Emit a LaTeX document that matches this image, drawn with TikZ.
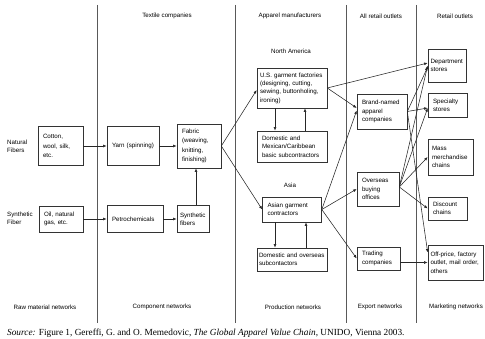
\documentclass[tikz,border=0pt]{standalone}
\usepackage{fontspec}
\setmainfont{Liberation Sans}
\newfontfamily\srcfont{Liberation Serif}
\usetikzlibrary{arrows.meta}
\hyphenpenalty=10000
\exhyphenpenalty=10000
\newcommand\fsz{\fontsize{6.2}{8.3}\selectfont}
\newcommand\fszw{\fontsize{6.2}{9.4}\selectfont}
\begin{document}
\begin{tikzpicture}[x=1pt,y=-1pt,
  box/.style={draw=black!80, line width=0.6pt, font=\fsz, align=left, inner xsep=5pt, inner ysep=1pt},
  lbl/.style={font=\fsz, inner sep=0pt, align=left},
  sep/.style={draw=black!65, line width=0.5pt},
  arr/.style={draw=black!85, line width=0.55pt, -{Latex[length=3.6pt,width=2.8pt]}}]
\useasboundingbox (0,0) rectangle (485,339);

% separators
\draw[sep] (97,5) -- (97,323);
\draw[sep] (235,5) -- (235,323);
\draw[sep] (346,5) -- (346,323);
\draw[sep] (416,5) -- (416,323);

% headers
\node[lbl] (hTex) at (167,16) {Textile companies};
\node[lbl] (hApp) at (290,16) {Apparel manufacturers};
\node[lbl] (hAll) at (381,16) {All retail outlets};
\node[lbl] (hRet) at (455,16) {Retail outlets};
\node[lbl] (na) at (291,51) {North America};
\node[lbl] (asia) at (290,185) {Asia};
\node[lbl,anchor=west] (natf) at (7,146) {Natural\\Fibers};
\node[lbl,anchor=west] (synf) at (7,218) {Synthetic\\Fiber};

% footers
\node[lbl] (fRaw) at (45,307) {Raw material networks};
\node[lbl] (fCom) at (162,307) {Component networks};
\node[lbl] (fPro) at (293,307) {Production networks};
\node[lbl] (fExp) at (380,307) {Export networks};
\node[lbl] (fMar) at (456,307) {Marketing networks};

% boxes
\node[box, font=\fszw, text width=35pt, minimum height=39pt] (cotton) at (60.5,146) {Cotton,\\wool, silk,\\etc.};
\node[box, text width=42pt, minimum height=39pt] (yarn) at (133,146) {Yarn (spinning)};
\node[box, font=\fszw, text width=34pt, minimum height=44pt] (fabric) at (199,146) {Fabric\\(weaving,\\knitting,\\finishing)};
\node[box, text width=34pt, minimum height=26pt] (oil) at (61,219) {Oil, natural\\gas, etc.};
\node[box, text width=46pt, minimum height=27pt] (petro) at (135,219) {Petrochemicals};
\node[box, inner xsep=3pt, text width=26pt, minimum height=27pt] (synfib) at (193,219) {Synthetic\\fibers};

\node[box, inner xsep=3pt, text width=64pt, minimum height=40pt] (US) at (292,88) {U.S. garment factories\\(designing, cutting,\\sewing, buttonholing,\\ironing)};
\node[box, text width=60pt, minimum height=31pt] (domMex) at (292,146.5) {Domestic and\\Mexican/Caribbean\\basic subcontractors};
\node[box, text width=49pt, minimum height=25pt] (asian) at (292,209.5) {Asian garment\\contractors};
\node[box, inner xsep=2pt, text width=66pt, minimum height=23pt] (domOver) at (292,259.5) {Domestic and overseas\\subcontactors};

\node[box, text width=40pt, minimum height=35pt] (brand) at (382,111.5) {Brand-named\\apparel\\companies};
\node[box, text width=32pt, minimum height=34pt] (overseas) at (378,189) {Overseas\\buying\\offices};
\node[box, text width=33pt, minimum height=23pt] (trading) at (378.5,258.5) {Trading\\companies};

\node[box, inner xsep=2.5pt, text width=33pt, minimum height=33pt] (dept) at (447,65.5) {Department\\stores};
\node[box, text width=29pt, minimum height=24pt] (specialty) at (447.5,105) {Specialty\\stores};
\node[box, inner xsep=4pt, text width=37pt, minimum height=36pt] (mass) at (450.5,157) {Mass\\merchandise\\chains};
\node[box, text width=29pt, minimum height=23pt] (discount) at (447.5,208.5) {Discount\\chains};
\node[box, inner xsep=2.5pt, text width=50pt, minimum height=35pt] (offprice) at (455.5,262.5) {Off-price, factory\\outlet, mail order,\\others};

% connectors
\draw[arr] (cotton.east) -- (yarn.west);
\draw[arr] (yarn.east) -- (fabric.west);
\draw[arr] (oil.east) -- (petro.west);
\draw[arr] (petro.east) -- (synfib.west);
\coordinate (sf) at ([xshift=3pt]synfib.north);
\draw[arr] (sf) -- (sf |- fabric.south);
\draw[arr] (fabric.east) -- ([yshift=-2pt]US.west);
\draw[arr] (fabric.east) -- (asian.west);

\draw[arr] ([xshift=-17pt]US.south) -- ([xshift=-17pt]domMex.north);
\draw[arr] ([xshift=13pt]domMex.north) -- ([xshift=13pt]US.south);
\draw[arr] ([xshift=-17pt]asian.south) -- ([xshift=-17pt]domOver.north);
\draw[arr] ([xshift=14pt]domOver.north) -- ([xshift=14pt]asian.south);

\draw[arr] (US.east) -- ([yshift=2.5pt]dept.west);
\draw[arr] (US.east) -- ([yshift=3.5pt]brand.west);
\draw[arr] (asian.east) -- ([yshift=1pt]brand.west);
\draw[arr] (asian.east) -- (overseas.west);
\draw[arr] (asian.east) -- (trading.west);

\draw[arr] (brand.east) -- ([yshift=-1.5pt]dept.west);
\draw[arr] (brand.east) -- ([yshift=-3pt]specialty.west);
\draw[arr] (brand.east) -- ([yshift=10pt]offprice.west);

\coordinate (ov) at ([yshift=2pt]overseas.east);
\draw[arr] (ov) -- (dept.west);
\draw[arr] (ov) -- ([yshift=-3pt]specialty.west);
\draw[arr] (ov) -- (mass.west);
\draw[arr] (ov) -- (discount.west);
\draw[arr] (trading.east |- offprice.west) -- (offprice.west);

% source
\node[anchor=west, inner sep=0pt, font=\srcfont\fontsize{9.3}{11}\selectfont] (src) at (7,333) {\textit{Source:} Figure 1, Gereffi, G. and O. Memedovic, \textit{The Global Apparel Value Chain}, UNIDO, Vienna 2003.};
\end{tikzpicture}
\end{document}
